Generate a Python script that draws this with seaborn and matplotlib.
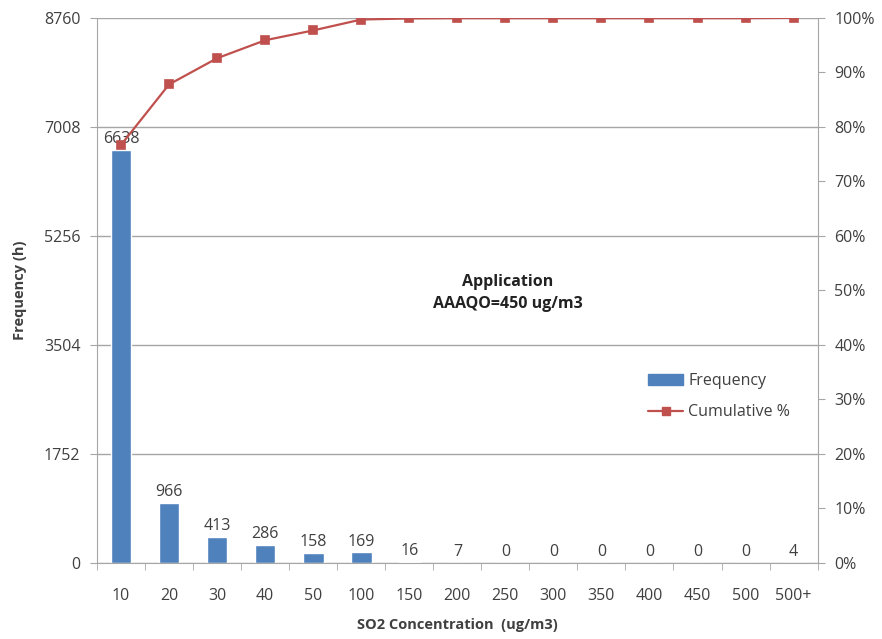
import numpy as np
import pandas as pd
import matplotlib
matplotlib.use("Agg")
import matplotlib.pyplot as plt
import seaborn as sns
from matplotlib.ticker import FixedLocator, FuncFormatter

# values
categories = ["10", "20", "30", "40", "50", "100", "150", "200", "250",
              "300", "350", "400", "450", "500", "500+"]
frequency = [6638, 966, 413, 286, 158, 169, 16, 7, 0, 0, 0, 0, 0, 0, 4]
cumulative_pct = [76.7, 87.8, 92.6, 95.9, 97.7, 99.7, 99.9, 99.95, 99.95,
                  99.95, 99.95, 99.95, 99.95, 99.95, 100.0]
freq_ticks = [0, 1752, 3504, 5256, 7008, 8760]

df = pd.DataFrame({"conc": categories, "freq": frequency, "cum": cumulative_pct})

sns.set_style("white")
plt.rcParams["font.family"] = ["Open Sans", "DejaVu Sans"]
text_col = "#404040"
grid_col = "#a6a6a6"
bar_col = "#4f81bd"
line_col = "#c0504d"
fs = 11.5

fig, ax = plt.subplots(figsize=(8.82, 6.39), dpi=100)
fig.subplots_adjust(left=0.11, right=0.927, top=0.972, bottom=0.119)

sns.barplot(data=df, x="conc", y="freq", color=bar_col, width=0.43,
            saturation=1, ax=ax, zorder=2)
ax.bar_label(ax.containers[0], labels=[str(v) for v in frequency],
             padding=2, fontsize=fs, color=text_col)

ax.set_ylim(0, 8760)
ax.set_yticks(freq_ticks)
ax.set_yticklabels([str(t) for t in freq_ticks])
ax.yaxis.grid(True, color=grid_col, linewidth=1)
ax.set_axisbelow(True)
ax.set_xlim(-0.5, len(categories) - 0.5)
ax.tick_params(axis="y", direction="out", length=5, color=grid_col,
               labelsize=fs, labelcolor=text_col, pad=7, left=True)
ax.tick_params(axis="x", which="major", length=0, labelsize=fs,
               labelcolor=text_col, pad=18)
ax.xaxis.set_minor_locator(FixedLocator(np.arange(-0.5, len(categories), 1.0)))
ax.tick_params(axis="x", which="minor", direction="out", length=5,
               color=grid_col, bottom=True)
ax.set_xlabel("SO2 Concentration  (ug/m3)", fontsize=10.5, fontweight="bold",
              color=text_col, labelpad=10)
ax.set_ylabel("Frequency (h)", fontsize=10.5, fontweight="bold",
              color=text_col, labelpad=12)
for s in ["left", "bottom"]:
    ax.spines[s].set_color(grid_col)
ax.spines["top"].set_visible(False)
ax.spines["right"].set_visible(False)

ax2 = ax.twinx()
sns.pointplot(data=df, x="conc", y="cum", color=line_col, markers="s",
              markersize=6, linewidth=1.6, ax=ax2, label="Cumulative %")
ax2.set_ylim(0, 100)
ax2.set_yticks(np.arange(0, 101, 10))
ax2.yaxis.set_major_formatter(FuncFormatter(lambda v, p: f"{int(v)}%"))
ax2.set_ylabel("")
ax2.set_xlim(-0.5, len(categories) - 0.5)
ax2.tick_params(axis="y", direction="out", length=5, color=grid_col,
                labelsize=fs, labelcolor=text_col, pad=7, right=True)
for s in ["top", "left", "bottom"]:
    ax2.spines[s].set_visible(False)
ax2.spines["right"].set_color(grid_col)

ax.text(0.57, 0.495, "Application\nAAAQO=450 ug/m3", transform=ax.transAxes,
        ha="center", va="center", fontsize=11.5, fontweight="bold",
        color="#222222", linespacing=1.45)

handles = [plt.Rectangle((0, 0), 1, 1, color=bar_col),
           plt.Line2D([], [], color=line_col, marker="s", markersize=6, linewidth=1.6)]
ax2.legend(handles, ["Frequency", "Cumulative %"], loc="center left",
           bbox_to_anchor=(0.745, 0.305), frameon=False, fontsize=fs,
           labelcolor=text_col, handlelength=2.2, handletextpad=0.3,
           labelspacing=0.95)

fig.savefig("out.png", dpi=100)
